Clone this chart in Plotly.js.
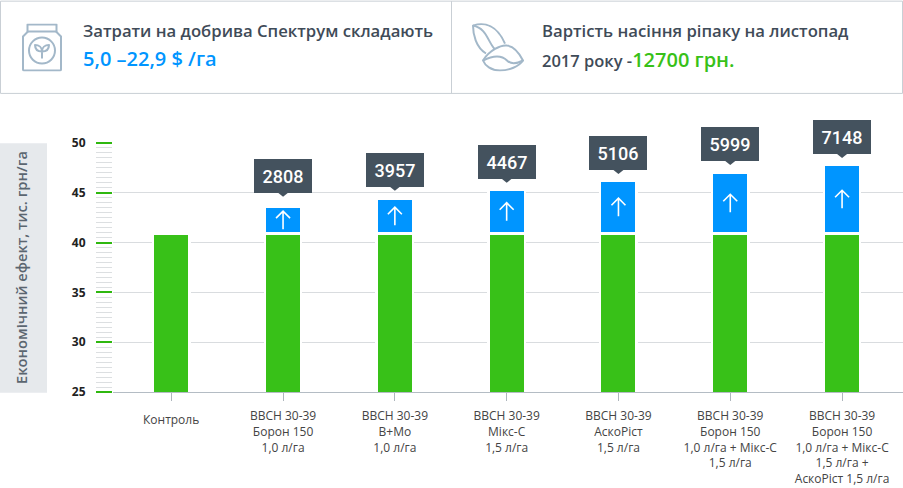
<!DOCTYPE html>
<html>
<head>
<meta charset="utf-8">
<script src="https://cdn.plot.ly/plotly-3.0.1.min.js"></script>
<style>
  html, body { margin: 0; padding: 0; background: #fff; }
</style>
</head>
<body>
<div id="chart" style="width:903px;height:488px;"></div>
<script>
// Chart data
var categories = [
  "Контроль",
  "ВВСН 30-39<br>Борон 150<br>1,0 л/га",
  "ВВСН 30-39<br>В+Мо<br>1,0 л/га",
  "ВВСН 30-39<br>Мікс-С<br>1,5 л/га",
  "ВВСН 30-39<br>АскоРіст<br>1,5 л/га",
  "ВВСН 30-39<br>Борон 150<br>1,0 л/га + Мікс-С<br>1,5 л/га",
  "ВВСН 30-39<br>Борон 150<br>1,0 л/га + Мікс-С<br>1,5 л/га +<br>АскоРіст 1,5 л/га"
];
var baseValues = [40.9, 40.9, 40.9, 40.9, 40.9, 40.9, 40.9];
var totalValues = [null, 43.6, 44.4, 45.3, 46.2, 47.0, 47.8];
var effectLabels = [null, "2808", "3957", "4467", "5106", "5999", "7148"];
var labelLevels = [null, 45.0, 45.6, 46.4, 47.3, 48.2, 48.9];

var GREEN = "#38c118";
var BLUE = "#0095ff";
var DARK = "#44525e";
var TEXT = "#3f4b58";
var ICON = "#a3b8c9";

var W = 903, H = 488;
var M = { l: 113, r: 0, t: 142.7, b: 95.7 };

// pixel position on the page -> paper fraction
function px(x) { return (x - M.l) / (W - M.l - M.r); }
function py(y) { return 1 - (y - M.t) / (H - M.t - M.b); }

var positions = categories.map(function (c, i) { return i; });
var increments = totalValues.map(function (v, i) { return v === null ? null : v - baseValues[i]; });
// first label sits lower than the others, it is placed as an annotation below
var tickLabels = categories.map(function (c, i) { return i === 0 ? " " : c; });

var data = [
  {
    type: "bar",
    x: positions,
    y: baseValues,
    width: 0.3256,
    marker: { color: GREEN, line: { color: "#fff", width: 2.4 } },
    hoverinfo: "y"
  },
  {
    type: "bar",
    x: positions,
    y: increments,
    width: 0.3256,
    marker: { color: BLUE, line: { color: "#fff", width: 2.4 } },
    hoverinfo: "y"
  }
];

var jarIcon = '<svg xmlns="http://www.w3.org/2000/svg" width="40" height="48" viewBox="0 0 40 48" fill="none" stroke="' + ICON + '" stroke-width="2" stroke-linejoin="round">' +
  '<path d="M5.5 1h29v7h-29z"/><path d="M6 8 L1 13 V46 a1 1 0 0 0 1 1 H38 a1 1 0 0 0 1 -1 V13 L34 8"/>' +
  '<circle cx="20" cy="27" r="13"/>' +
  '<path d="M20 35 V28 M20 28 C15 28 13 25 13 21.5 C17 21.5 20 24 20 28 M20 28 C25 28 27 25 27 21.5 C23 21.5 20 24 20 28"/></svg>';

var seedIcon = '<svg xmlns="http://www.w3.org/2000/svg" width="52" height="50" viewBox="-1 -1 52 50" fill="none" stroke="' + ICON + '" stroke-width="2" stroke-linejoin="round">' +
  '<path d="M13 31 C3 25 0 12 0 3 C12 -1 24 3 32 21"/><path d="M0 3 C14 6 14 18 22 27"/>' +
  '<path d="M10 38 C16 28 28 22 34 23 C42 24 47 32 50 38 C46 44 36 48 27 48 C18 48 12 43 10 38 Z"/><path d="M10 38 C22 32 30 34 34 38 C38 42 44 41 50 38"/></svg>';

function iconSource(svg) { return "data:image/svg+xml;charset=utf-8," + encodeURIComponent(svg); }

var annotations = [
  // header texts
  { text: "Затрати на добрива Спектрум складають", x: px(81), y: py(30), font: { size: 16.7, color: TEXT, family: "Open Sans", weight: 600 } },
  { text: "5,0 –22,9 $ /га", x: px(81), y: py(58), font: { size: 20, color: BLUE, family: "Open Sans", weight: 600 } },
  { text: "Вартість насіння ріпаку на листопад", x: px(540), y: py(30), font: { size: 16.7, color: TEXT, family: "Open Sans", weight: 600 } },
  { text: "2017 року -<span style=\"font-size:20px;color:" + GREEN + "\">12700 грн.</span>", x: px(540), y: py(59), font: { size: 16.5, color: TEXT, family: "Open Sans", weight: 600 } }
].map(function (a) {
  a.xref = "paper"; a.yref = "paper"; a.xanchor = "left"; a.yanchor = "middle"; a.showarrow = false;
  return a;
});

annotations.push({
  text: categories[0], x: 0, y: py(420), xref: "x", yref: "paper", yanchor: "middle", showarrow: false,
  font: { size: 12, color: "#444", family: "Open Sans" }
});

var shapes = [
  // header frame
  { type: "rect", xref: "paper", yref: "paper", x0: px(0.5), x1: px(902.5), y0: py(0.5), y1: py(93), line: { color: "#c9cfd5", width: 1 }, layer: "below" },
  { type: "line", xref: "paper", yref: "paper", x0: px(451.5), x1: px(451.5), y0: py(0.5), y1: py(93), line: { color: "#c9cfd5", width: 1 }, layer: "below" },
  // band behind the y title
  { type: "rect", xref: "paper", yref: "paper", x0: px(0), x1: px(47), y0: py(143), y1: py(393), fillcolor: "#e6e9ec", line: { width: 0 }, layer: "below" }
];

positions.forEach(function (i) {
  if (totalValues[i] === null) return;
  // value callout above the bar
  annotations.push({
    text: effectLabels[i], x: i, y: labelLevels[i], xref: "x", yref: "y",
    yanchor: "bottom", showarrow: false, width: 56, height: 32, bgcolor: DARK, bordercolor: DARK, borderpad: 0,
    font: { size: 18, color: "#fff", family: "Roboto", weight: 500 }
  });
  // callout pointer
  shapes.push({
    type: "path", xref: "x", yref: "y", xsizemode: "pixel", ysizemode: "pixel",
    xanchor: i, yanchor: labelLevels[i], path: "M-5,0 L5,0 L0,-4 Z",
    fillcolor: DARK, line: { width: 0 }
  });
  // white arrow inside the blue part
  shapes.push({
    type: "path", xref: "x", yref: "y", xsizemode: "pixel", ysizemode: "pixel",
    xanchor: i, yanchor: (baseValues[i] + totalValues[i]) / 2,
    path: "M0,-9 L0,9 M-7,2 L0,9 L7,2",
    line: { color: "#fff", width: 1.6 }
  });
});

var layout = {
  width: W,
  height: H,
  margin: { l: M.l, r: M.r, t: M.t, b: M.b, pad: 0 },
  paper_bgcolor: "#fff",
  plot_bgcolor: "#fff",
  showlegend: false,
  barmode: "stack",
  font: { family: "Open Sans", color: "#444" },
  xaxis: {
    range: [-0.521, 6.545],
    tickmode: "array",
    tickvals: positions,
    ticktext: tickLabels,
    ticks: "outside",
    ticklen: 8,
    tickcolor: "#aeb6bd",
    tickwidth: 1,
    showgrid: false,
    zeroline: false,
    showline: true,
    linecolor: "#b4bcc4",
    linewidth: 1,
    ticklabelstandoff: 5,
    tickfont: { size: 12, color: "#444" }
  },
  yaxis: {
    range: [25, 50],
    dtick: 5,
    tick0: 25,
    ticks: "outside",
    ticklen: 16,
    tickwidth: 1.5,
    tickcolor: "#2fb80f",
    gridcolor: "#d9dcdf",
    gridwidth: 1,
    zeroline: false,
    showline: false,
    ticklabelstandoff: 8,
    tickfont: { size: 12, color: "#222", family: "Open Sans", weight: 700 },
    minor: { dtick: 0.5, ticks: "outside", ticklen: 16, tickcolor: "#dcdfe1", tickwidth: 1, showgrid: false },
    title: {
      text: "Економічний ефект, тис. грн/га",
      standoff: 40,
      font: { size: 14.7, color: "#5b6670", family: "Open Sans", weight: 600 }
    }
  },
  annotations: annotations,
  shapes: shapes,
  images: [
    { source: iconSource(jarIcon), xref: "paper", yref: "paper", x: px(22), y: py(23), sizex: px(62) - px(22), sizey: py(23) - py(71), xanchor: "left", yanchor: "top", sizing: "stretch", layer: "above" },
    { source: iconSource(seedIcon), xref: "paper", yref: "paper", x: px(472), y: py(21), sizex: px(524) - px(472), sizey: py(21) - py(71), xanchor: "left", yanchor: "top", sizing: "stretch", layer: "above" }
  ]
};

Plotly.newPlot("chart", data, layout, { displayModeBar: false });
</script>
</body>
</html>
